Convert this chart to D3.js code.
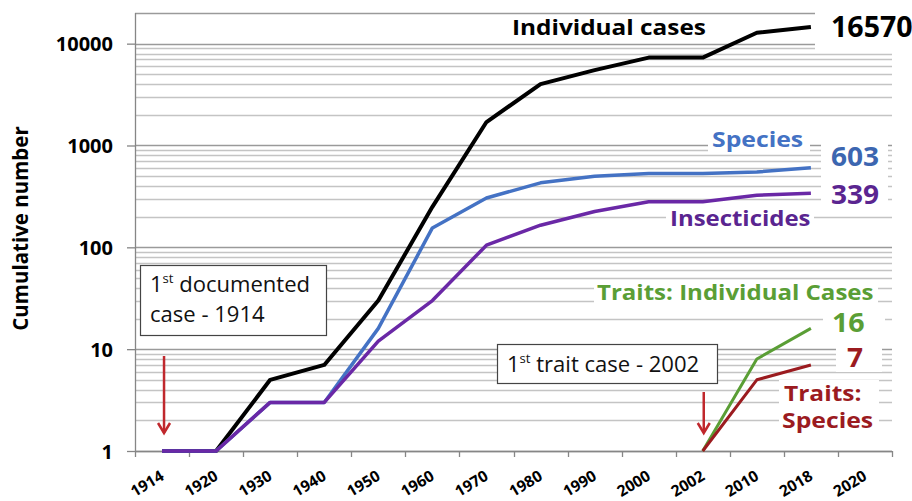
<!DOCTYPE html>
<html>
<head>
<meta charset="utf-8">
<script src="https://cdn.jsdelivr.net/npm/d3@7"></script>
<style>
  html, body { margin: 0; padding: 0; background: #fff; }
  svg { display: block; }
  text { font-family: "Open Sans", "Noto Sans", sans-serif; }
</style>
</head>
<body>
<svg id="chart" width="912" height="501"></svg>
<script>
// ---------- DATA ----------
const categories = ["1914","1920","1930","1940","1950","1960","1970","1980","1990","2000","2002","2010","2018","2020"];
const individualCases = [1, 1, 5, 7, 30, 250, 1700, 4000, 5500, 7300, 7300, 12800, 14600, null];
const species         = [1, 1, 3, 3, 16, 155, 305, 430, 500, 530, 530, 550, 603, null];
const insecticides    = [1, 1, 3, 3, 12, 30, 105, 165, 225, 280, 280, 325, 339, null];
const traitsCases     = [null, null, null, null, null, null, null, null, null, null, 1, 8, 16, null];
const traitsSpecies   = [null, null, null, null, null, null, null, null, null, null, 1, 5, 7, null];
const yTickLabels = [1, 10, 100, 1000, 10000];
const yMax = 20000;

// ---------- LAYOUT ----------
const svg = d3.select("#chart");
const L = 135, R = 892, T = 13, B = 451;

const x = d3.scaleBand().domain(categories).range([L, R]).paddingInner(0).paddingOuter(0);
const cx = c => x(c) + x.bandwidth() / 2;
const y = d3.scaleLog().domain([1, yMax]).range([B, T]);

// gridlines
const gridVals = y.ticks();
const isMajor = v => Math.abs(Math.log10(v) - Math.round(Math.log10(v))) < 1e-9 || v === yMax;
svg.append("g").selectAll("line").data(gridVals).join("line")
  .attr("x1", L).attr("x2", R)
  .attr("y1", d => Math.round(y(d)) + 0.5).attr("y2", d => Math.round(y(d)) + 0.5)
  .attr("stroke", d => isMajor(d) ? "#9a9a9a" : "#c4c4c4")
  .attr("stroke-width", 1.3);

// white label backgrounds (they hide gridlines in the reference)
const boxes = [
  [815, 0, 97, 50],     // 16570
  [708, 124, 102, 28],  // Species
  [821, 141, 67, 37],   // 603
  [821, 180, 67, 35],   // 339
  [666, 206, 148, 28],  // Insecticides
  [594, 280, 284, 26],  // Traits: Individual Cases
  [823, 310, 62, 28],   // 16
  [836, 343, 46, 29],   // 7
  [779, 380, 100, 52]   // Traits: Species
];
svg.append("g").selectAll("rect").data(boxes).join("rect")
  .attr("x", d => d[0]).attr("y", d => d[1]).attr("width", d => d[2]).attr("height", d => d[3])
  .attr("fill", "#fff");

// axes
const xAxis = d3.axisBottom(x).tickSize(0).tickFormat(d => d);
const gx = svg.append("g").attr("transform", `translate(0,${B})`).call(xAxis);
gx.select(".domain").remove();
gx.selectAll(".tick text")
  .attr("transform", "translate(3,28) rotate(-31)")
  .attr("text-anchor", "end")
  .attr("dy", 0).attr("y", 0).attr("x", 0)
  .style("font-size", "15.5px").style("font-weight", "700").attr("fill", "#000");

// x tick marks at category boundaries
const boundaries = categories.map(c => x(c)).concat([R]);
svg.append("g").selectAll("line").data(boundaries).join("line")
  .attr("x1", d => Math.round(d) + 0.5).attr("x2", d => Math.round(d) + 0.5)
  .attr("y1", B).attr("y2", B + 6)
  .attr("stroke", "#868686").attr("stroke-width", 1.3);

const yAxis = d3.axisLeft(y).tickValues(yTickLabels).tickSize(8).tickPadding(14).tickFormat(d3.format("d"));
const gy = svg.append("g").attr("transform", `translate(${L},0)`).call(yAxis);
gy.select(".domain").remove();
gy.selectAll(".tick line").attr("stroke", "#868686").attr("stroke-width", 1.3);
gy.selectAll(".tick text").style("font-size", "20px").style("font-weight", "700").attr("fill", "#000").attr("dy", "0.36em");

// axis lines
svg.append("line").attr("x1", L + 0.5).attr("x2", L + 0.5).attr("y1", T).attr("y2", B)
  .attr("stroke", "#868686").attr("stroke-width", 1.3);
svg.append("line").attr("x1", L).attr("x2", R).attr("y1", B + 0.5).attr("y2", B + 0.5)
  .attr("stroke", "#868686").attr("stroke-width", 1.3);

// y title
svg.append("text")
  .attr("transform", `translate(28,${(127 + 330) / 2}) rotate(-90)`)
  .attr("text-anchor", "middle")
  .style("font-size", "20.5px").style("font-weight", "700")
  .text("Cumulative number");

// series lines
const series = [
  { vals: individualCases, color: "#000000", w: 4 },
  { vals: species,         color: "#4472C4", w: 3.5 },
  { vals: insecticides,    color: "#6A28A6", w: 3.5 },
  { vals: traitsCases,     color: "#5A9E35", w: 3 },
  { vals: traitsSpecies,   color: "#9B1B1F", w: 3 }
];
const line = d3.line()
  .defined(d => d.v != null)
  .x(d => cx(d.c)).y(d => y(d.v));
svg.append("g").selectAll("path").data(series).join("path")
  .attr("d", s => line(categories.map((c, i) => ({ c, v: s.vals[i] }))))
  .attr("fill", "none")
  .attr("stroke", s => s.color)
  .attr("stroke-width", s => s.w)
  .attr("stroke-linejoin", "round");

// series labels
const labels = [
  { t: "Individual cases", x: 512, y: 35, size: 21, sx: 1.16, color: "#000000" },
  { t: "16570", x: 831, y: 37, size: 28, sx: 1.02, color: "#000000" },
  { t: "Species", x: 712, y: 147, size: 21, sx: 1.18, color: "#4472C4" },
  { t: "603", x: 831, y: 166, size: 26, sx: 1.08, color: "#3C66B0" },
  { t: "339", x: 831, y: 204, size: 26, sx: 1.08, color: "#5A2590" },
  { t: "Insecticides", x: 670, y: 226, size: 21, sx: 1.14, color: "#5A2590" },
  { t: "Traits: Individual Cases", x: 597, y: 300, size: 21, sx: 1.145, color: "#5A9E35" },
  { t: "16", x: 832, y: 332, size: 26, sx: 1.1, color: "#5A9E35" },
  { t: "7", x: 847, y: 367, size: 26, sx: 1.08, color: "#9B1B1F" },
  { t: "Traits:", x: 784, y: 401, size: 21, sx: 1.17, color: "#9B1B1F" },
  { t: "Species", x: 782, y: 428, size: 21, sx: 1.18, color: "#9B1B1F" }
];
svg.append("g").selectAll("text").data(labels).join("text")
  .attr("transform", d => `translate(${d.x},${d.y}) scale(${d.sx},1)`)
  .attr("fill", d => d.color)
  .style("font-size", d => d.size + "px").style("font-weight", "700")
  .text(d => d.t);

// annotation boxes
function annotBox(bx, by, bw, bh, lines) {
  const g = svg.append("g");
  g.append("rect").attr("x", bx + 0.5).attr("y", by + 0.5).attr("width", bw).attr("height", bh)
    .attr("fill", "#fff").attr("stroke", "#444").attr("stroke-width", 1.2);
  lines.forEach(l => {
    const t = g.append("text").attr("transform", `translate(${l.x},${l.y}) scale(1.05,1)`)
      .style("font-size", "21px").attr("fill", "#111");
    l.parts.forEach(p => {
      const ts = t.append("tspan").text(p.t);
      if (p.sup) ts.style("font-size", "12.5px").attr("dy", -9);
      if (p.after) ts.attr("dy", 9);
    });
  });
}
annotBox(140, 265, 186, 70, [
  { x: 150, y: 292, parts: [{ t: "1" }, { t: "st", sup: true }, { t: " documented", after: true }] },
  { x: 150, y: 322, parts: [{ t: "case - 1914" }] }
]);
annotBox(497, 344, 220, 39, [
  { x: 507, y: 372, parts: [{ t: "1" }, { t: "st", sup: true }, { t: " trait case - 2002", after: true }] }
]);

// red arrows
function arrow(ax, y1, y2) {
  const g = svg.append("g").attr("stroke", "#C0282D").attr("stroke-width", 2.5).attr("fill", "none");
  g.append("line").attr("x1", ax).attr("x2", ax).attr("y1", y1).attr("y2", y2);
  g.append("path").attr("d", `M${ax - 6},${y2 - 10} L${ax},${y2} L${ax + 6},${y2 - 10}`);
}
arrow(cx("1914") + 2, 356, 433);
arrow(cx("2002") + 1, 392, 433);
</script>
</body>
</html>
